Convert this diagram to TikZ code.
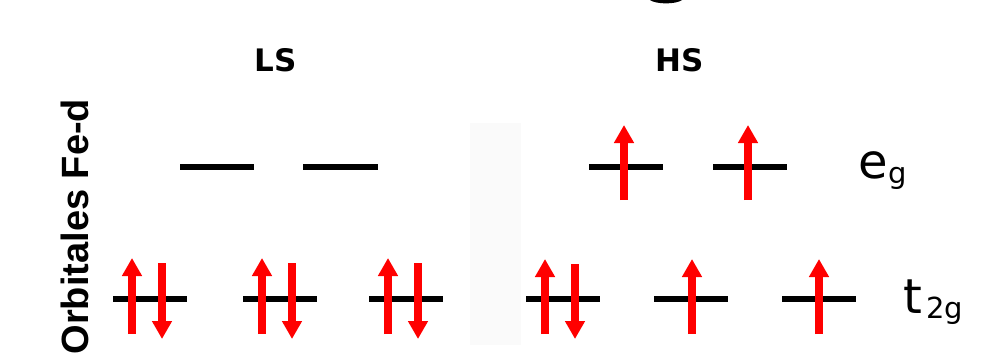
\documentclass[tikz,border=0pt]{standalone}
\usepackage{fontspec}
\setmainfont{DejaVu Sans}
\newfontfamily\orbfont{Liberation Sans}
\usetikzlibrary{arrows.meta}
\tikzset{
  level/.style={line width=6pt,black},
  spin/.style={red,line width=7.5pt,-{Triangle[width=19pt,length=18pt]}},
  head/.style={anchor=base,font=\bfseries\fontsize{31}{31}\selectfont},
  orblabel/.style={anchor=base west,font=\fontsize{48}{48}\selectfont}
}
\newcommand{\subsc}[1]{\raisebox{-5pt}{\fontsize{29}{29}\selectfont #1}}
\begin{document}
\begin{tikzpicture}[x=1pt,y=-1pt]
\useasboundingbox[fill=white] (0,0) rectangle (985,361);
\fill[black!2] (470,123) rectangle (521,345);
\fill (650,0) .. controls (656,4.5) and (676,4.5) .. (682,0) -- cycle;
\node[head] (ls) at (276,71) {LS};
\node[head] (hs) at (680,71) {HS};
\node[rotate=90,anchor=base west,font=\orbfont\bfseries\fontsize{38}{38}\selectfont] (orb) at (88,358) {Orbitales Fe-d};
\node[orblabel] (eg) at (855,178) {e\subsc{g}};
\node[orblabel] (t2g) at (900,313) {t\kern4pt\subsc{2g}};
% LS
\draw[level] (180,167)--(254,167) (303,167)--(378,167);
\foreach \x in {113,243,369}{
  \draw[level] (\x,299)--++(74,0);
  \draw[spin] (\x+19,334)--(\x+19,258);
  \draw[spin] (\x+49,263)--(\x+49,339);
}
% HS
\foreach \x in {589,713}{
  \draw[level] (\x,167)--++(74,0);
  \draw[spin] (\x+35,200)--(\x+35,125);
}
\draw[level] (526,299)--(600,299) (654,299)--(728,299) (782,299)--(856,299);
\draw[spin] (545,334)--(545,259);
\draw[spin] (575,264)--(575,339);
\draw[spin] (692,334)--(692,259);
\draw[spin] (819,334)--(819,259);
\end{tikzpicture}
\end{document}
